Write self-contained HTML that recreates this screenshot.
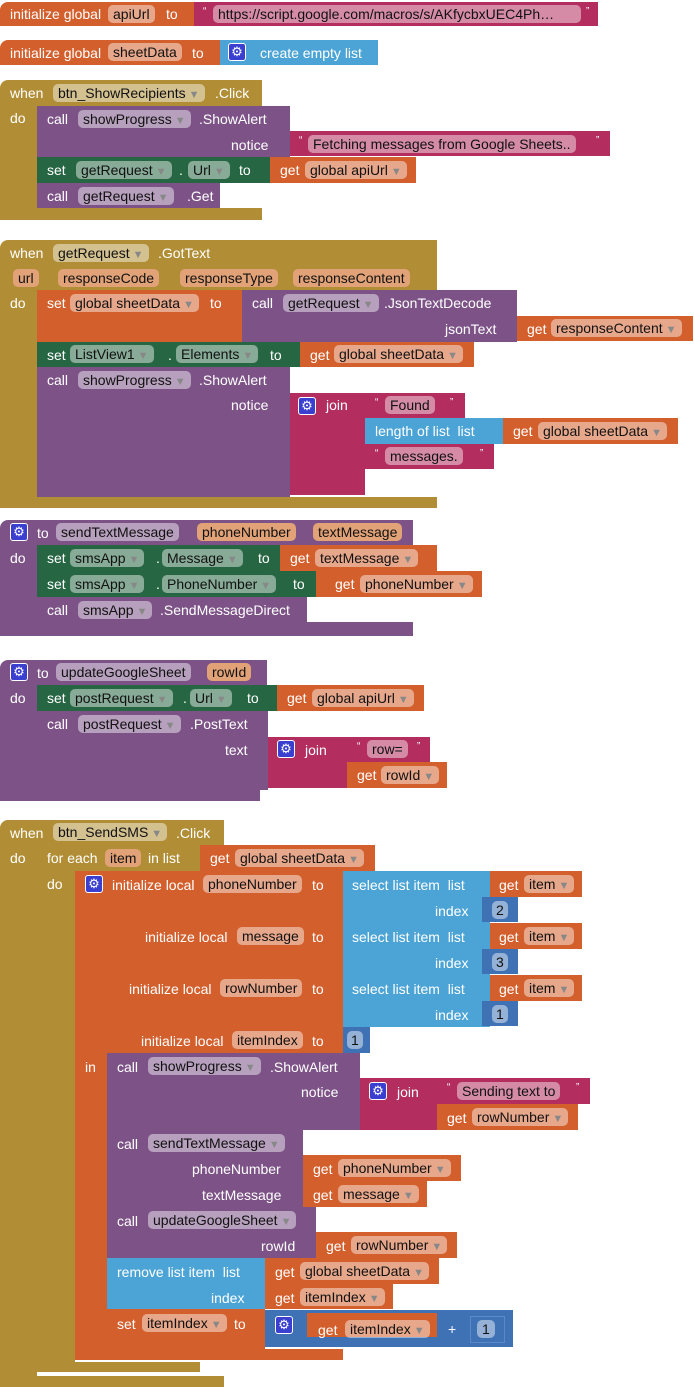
<!DOCTYPE html>
<html><head><meta charset="utf-8"><style>
body{margin:0;width:694px;height:1387px;background:#fff;position:relative;overflow:hidden;font-family:"Liberation Sans",sans-serif}
.b{position:absolute}
.o{background:#d35f2c}.v{background:#b18e35}.p{background:#7d5387}.g{background:#266643}.k{background:#b32d5e}.l{background:#4ca4d6}.m{background:#3f71b5}
.t{position:absolute;color:#fff;font-size:14px;line-height:16px;white-space:nowrap}
.f{position:absolute;color:#111;font-size:14px;line-height:18px;height:18px;padding:0 5px;border-radius:5px;background:rgba(255,255,255,.45);white-space:nowrap}
.f i{font-style:normal;color:#888;font-size:11px;margin-left:3px}
.gr{position:absolute;width:16px;height:16px;border:1px solid #fff;border-radius:3px;background:#3a3fd0;color:#fff;font-size:13px;line-height:16px;text-align:center}
.r{border-top-left-radius:8px}
</style></head><body>

<!-- Block 1 -->
<div class="b o r" style="left:0;top:2px;width:198px;height:24px"></div>
<div class="t" style="left:10px;top:6px">initialize global</div>
<div class="f" style="left:108px;top:5px">apiUrl</div>
<div class="t" style="left:166px;top:6px">to</div>
<div class="b k" style="left:194px;top:2px;width:404px;height:24px"></div>
<div class="t" style="left:203px;top:4px;font-size:10px">“</div>
<div class="f" style="left:213px;top:5px;width:358px;overflow:hidden">https://script.google.com/macros/s/AKfycbxUEC4Ph…</div>
<div class="t" style="left:586px;top:4px;font-size:10px">”</div>

<!-- Block 2 -->
<div class="b o r" style="left:0;top:40px;width:222px;height:25px"></div>
<div class="t" style="left:10px;top:45px">initialize global</div>
<div class="f" style="left:108px;top:43px">sheetData</div>
<div class="t" style="left:192px;top:45px">to</div>
<div class="b l" style="left:220px;top:40px;width:158px;height:25px"></div>
<div class="gr" style="left:228px;top:43px">⚙</div>
<div class="t" style="left:260px;top:45px">create empty list</div>

<!-- Block 3 -->
<div class="b v r" style="left:0;top:80px;width:262px;height:26px"></div>
<div class="b v" style="left:0;top:106px;width:37px;height:110px"></div>
<div class="b v" style="left:0;top:208px;width:262px;height:12px"></div>
<div class="t" style="left:10px;top:85px">when</div>
<div class="f" style="left:53px;top:84px">btn_ShowRecipients<i>▼</i></div>
<div class="t" style="left:215px;top:85px">.Click</div>
<div class="t" style="left:10px;top:110px">do</div>
<div class="b p" style="left:37px;top:106px;width:253px;height:52px"></div>
<div class="t" style="left:47px;top:111px">call</div>
<div class="f" style="left:78px;top:110px">showProgress<i>▼</i></div>
<div class="t" style="left:199px;top:111px">.ShowAlert</div>
<div class="t" style="left:231px;top:137px">notice</div>
<div class="b k" style="left:290px;top:131px;width:320px;height:25px"></div>
<div class="t" style="left:299px;top:133px;font-size:10px">“</div>
<div class="f" style="left:308px;top:135px">Fetching messages from Google Sheets..</div>
<div class="t" style="left:596px;top:133px;font-size:10px">”</div>
<div class="b g" style="left:37px;top:157px;width:233px;height:26px"></div>
<div class="t" style="left:47px;top:162px">set</div>
<div class="f" style="left:76px;top:161px">getRequest<i>▼</i></div>
<div class="t" style="left:179px;top:162px">.</div>
<div class="f" style="left:188px;top:161px">Url<i>▼</i></div>
<div class="t" style="left:239px;top:162px">to</div>
<div class="b o" style="left:270px;top:157px;width:146px;height:26px"></div>
<div class="t" style="left:280px;top:162px">get</div>
<div class="f" style="left:305px;top:161px">global apiUrl<i>▼</i></div>
<div class="b p" style="left:37px;top:183px;width:183px;height:25px"></div>
<div class="t" style="left:47px;top:188px">call</div>
<div class="f" style="left:78px;top:187px">getRequest<i>▼</i></div>
<div class="t" style="left:187px;top:188px">.Get</div>

<!-- Block 4 -->
<div class="b v r" style="left:0;top:240px;width:437px;height:50px"></div>
<div class="b v" style="left:0;top:290px;width:37px;height:210px"></div>
<div class="b v" style="left:0;top:497px;width:437px;height:11px"></div>
<div class="t" style="left:10px;top:245px">when</div>
<div class="f" style="left:53px;top:244px">getRequest<i>▼</i></div>
<div class="t" style="left:158px;top:245px">.GotText</div>
<div class="f" style="left:13px;top:269px;background:#e2a277">url</div>
<div class="f" style="left:58px;top:269px;background:#e2a277">responseCode</div>
<div class="f" style="left:180px;top:269px;background:#e2a277">responseType</div>
<div class="f" style="left:293px;top:269px;background:#e2a277">responseContent</div>
<div class="t" style="left:10px;top:295px">do</div>
<div class="b o" style="left:37px;top:290px;width:205px;height:52px"></div>
<div class="t" style="left:47px;top:295px">set</div>
<div class="f" style="left:70px;top:294px">global sheetData<i>▼</i></div>
<div class="t" style="left:210px;top:295px">to</div>
<div class="b p" style="left:242px;top:290px;width:275px;height:52px"></div>
<div class="t" style="left:252px;top:295px">call</div>
<div class="f" style="left:283px;top:294px">getRequest<i>▼</i></div>
<div class="t" style="left:384px;top:295px">.JsonTextDecode</div>
<div class="t" style="left:445px;top:321px">jsonText</div>
<div class="b o" style="left:517px;top:316px;width:176px;height:25px"></div>
<div class="t" style="left:527px;top:321px">get</div>
<div class="f" style="left:551px;top:319px">responseContent<i>▼</i></div>
<div class="b g" style="left:37px;top:342px;width:263px;height:25px"></div>
<div class="t" style="left:47px;top:347px">set</div>
<div class="f" style="left:70px;top:345px">ListView1<i>▼</i></div>
<div class="t" style="left:168px;top:347px">.</div>
<div class="f" style="left:176px;top:345px">Elements<i>▼</i></div>
<div class="t" style="left:270px;top:347px">to</div>
<div class="b o" style="left:300px;top:342px;width:174px;height:25px"></div>
<div class="t" style="left:310px;top:347px">get</div>
<div class="f" style="left:334px;top:345px">global sheetData<i>▼</i></div>
<div class="b p" style="left:37px;top:367px;width:253px;height:130px"></div>
<div class="t" style="left:47px;top:372px">call</div>
<div class="f" style="left:78px;top:371px">showProgress<i>▼</i></div>
<div class="t" style="left:199px;top:372px">.ShowAlert</div>
<div class="t" style="left:231px;top:397px">notice</div>
<div class="b k" style="left:290px;top:393px;width:75px;height:102px"></div>
<div class="gr" style="left:298px;top:397px">⚙</div>
<div class="t" style="left:326px;top:397px">join</div>
<div class="b k" style="left:365px;top:393px;width:100px;height:25px"></div>
<div class="t" style="left:375px;top:395px;font-size:10px">“</div>
<div class="f" style="left:385px;top:396px">Found</div>
<div class="t" style="left:450px;top:395px;font-size:10px">”</div>
<div class="b l" style="left:365px;top:418px;width:138px;height:26px"></div>
<div class="t" style="left:375px;top:423px">length of list &nbsp;list</div>
<div class="b o" style="left:503px;top:418px;width:175px;height:26px"></div>
<div class="t" style="left:513px;top:423px">get</div>
<div class="f" style="left:538px;top:422px">global sheetData<i>▼</i></div>
<div class="b k" style="left:365px;top:444px;width:129px;height:25px"></div>
<div class="t" style="left:375px;top:446px;font-size:10px">“</div>
<div class="f" style="left:385px;top:447px">messages.</div>
<div class="t" style="left:480px;top:446px;font-size:10px">”</div>

<!-- Block 5 -->
<div class="b p r" style="left:0;top:520px;width:413px;height:25px"></div>
<div class="b p" style="left:0;top:545px;width:37px;height:85px"></div>
<div class="b p" style="left:0;top:622px;width:413px;height:14px"></div>
<div class="gr" style="left:10px;top:523px">⚙</div>
<div class="t" style="left:37px;top:525px">to</div>
<div class="f" style="left:56px;top:523px">sendTextMessage</div>
<div class="f" style="left:197px;top:523px;background:#e2a277">phoneNumber</div>
<div class="f" style="left:313px;top:523px;background:#e2a277">textMessage</div>
<div class="t" style="left:10px;top:550px">do</div>
<div class="b g" style="left:37px;top:545px;width:243px;height:26px"></div>
<div class="t" style="left:47px;top:550px">set</div>
<div class="f" style="left:70px;top:549px">smsApp<i>▼</i></div>
<div class="t" style="left:156px;top:550px">.</div>
<div class="f" style="left:162px;top:549px">Message<i>▼</i></div>
<div class="t" style="left:258px;top:550px">to</div>
<div class="b o" style="left:280px;top:545px;width:157px;height:26px"></div>
<div class="t" style="left:290px;top:550px">get</div>
<div class="f" style="left:315px;top:549px">textMessage<i>▼</i></div>
<div class="b g" style="left:37px;top:571px;width:279px;height:26px"></div>
<div class="t" style="left:47px;top:576px">set</div>
<div class="f" style="left:70px;top:575px">smsApp<i>▼</i></div>
<div class="t" style="left:156px;top:576px">.</div>
<div class="f" style="left:162px;top:575px">PhoneNumber<i>▼</i></div>
<div class="t" style="left:293px;top:576px">to</div>
<div class="b o" style="left:316px;top:571px;width:166px;height:26px"></div>
<div class="t" style="left:335px;top:576px">get</div>
<div class="f" style="left:360px;top:575px">phoneNumber<i>▼</i></div>
<div class="b p" style="left:37px;top:597px;width:270px;height:25px"></div>
<div class="t" style="left:47px;top:602px">call</div>
<div class="f" style="left:78px;top:601px">smsApp<i>▼</i></div>
<div class="t" style="left:160px;top:602px">.SendMessageDirect</div>

<!-- Block 6 -->
<div class="b p r" style="left:0;top:660px;width:267px;height:25px"></div>
<div class="b p" style="left:0;top:685px;width:37px;height:110px"></div>
<div class="b p" style="left:0;top:790px;width:260px;height:11px"></div>
<div class="gr" style="left:10px;top:663px">⚙</div>
<div class="t" style="left:37px;top:665px">to</div>
<div class="f" style="left:56px;top:663px">updateGoogleSheet</div>
<div class="f" style="left:207px;top:663px;background:#e2a277">rowId</div>
<div class="t" style="left:10px;top:690px">do</div>
<div class="b g" style="left:37px;top:685px;width:240px;height:26px"></div>
<div class="t" style="left:47px;top:690px">set</div>
<div class="f" style="left:70px;top:689px">postRequest<i>▼</i></div>
<div class="t" style="left:183px;top:690px">.</div>
<div class="f" style="left:190px;top:689px">Url<i>▼</i></div>
<div class="t" style="left:247px;top:690px">to</div>
<div class="b o" style="left:277px;top:685px;width:147px;height:26px"></div>
<div class="t" style="left:287px;top:690px">get</div>
<div class="f" style="left:312px;top:689px">global apiUrl<i>▼</i></div>
<div class="b p" style="left:37px;top:711px;width:231px;height:79px"></div>
<div class="t" style="left:47px;top:716px">call</div>
<div class="f" style="left:78px;top:715px">postRequest<i>▼</i></div>
<div class="t" style="left:190px;top:716px">.PostText</div>
<div class="t" style="left:225px;top:742px">text</div>
<div class="b k" style="left:268px;top:737px;width:79px;height:51px"></div>
<div class="gr" style="left:277px;top:740px">⚙</div>
<div class="t" style="left:305px;top:742px">join</div>
<div class="b k" style="left:347px;top:737px;width:83px;height:25px"></div>
<div class="t" style="left:357px;top:739px;font-size:10px">“</div>
<div class="f" style="left:367px;top:740px">row=</div>
<div class="t" style="left:417px;top:739px;font-size:10px">”</div>
<div class="b o" style="left:347px;top:762px;width:100px;height:26px"></div>
<div class="t" style="left:357px;top:767px">get</div>
<div class="f" style="left:381px;top:766px">rowId<i>▼</i></div>

<!-- Block 7 -->
<div class="b v r" style="left:0;top:820px;width:224px;height:25px"></div>
<div class="b v" style="left:0;top:845px;width:37px;height:535px"></div>
<div class="b v" style="left:0;top:1376px;width:224px;height:11px"></div>
<div class="t" style="left:10px;top:825px">when</div>
<div class="f" style="left:53px;top:823px">btn_SendSMS<i>▼</i></div>
<div class="t" style="left:176px;top:825px">.Click</div>
<div class="t" style="left:10px;top:850px">do</div>
<div class="b v" style="left:37px;top:845px;width:163px;height:26px"></div>
<div class="b v" style="left:37px;top:871px;width:38px;height:495px"></div>
<div class="b v" style="left:37px;top:1362px;width:163px;height:10px"></div>
<div class="t" style="left:47px;top:850px">for each</div>
<div class="f" style="left:105px;top:849px;background:#e2a277">item</div>
<div class="t" style="left:148px;top:850px">in list</div>
<div class="b o" style="left:200px;top:845px;width:175px;height:26px"></div>
<div class="t" style="left:210px;top:850px">get</div>
<div class="f" style="left:235px;top:849px">global sheetData<i>▼</i></div>
<div class="t" style="left:47px;top:876px">do</div>
<div class="b o" style="left:75px;top:871px;width:268px;height:182px"></div>
<div class="b o" style="left:75px;top:1053px;width:32px;height:300px"></div>
<div class="b o" style="left:75px;top:1349px;width:268px;height:11px"></div>
<div class="gr" style="left:85px;top:875px">⚙</div>
<div class="t" style="left:112px;top:877px">initialize local</div>
<div class="f" style="left:203px;top:875px">phoneNumber</div>
<div class="t" style="left:312px;top:877px">to</div>
<div class="t" style="left:145px;top:929px">initialize local</div>
<div class="f" style="left:237px;top:927px">message</div>
<div class="t" style="left:312px;top:929px">to</div>
<div class="t" style="left:129px;top:981px">initialize local</div>
<div class="f" style="left:220px;top:979px">rowNumber</div>
<div class="t" style="left:312px;top:981px">to</div>
<div class="t" style="left:141px;top:1033px">initialize local</div>
<div class="f" style="left:232px;top:1031px">itemIndex</div>
<div class="t" style="left:312px;top:1033px">to</div>
<!-- select list items -->
<div class="b l" style="left:343px;top:871px;width:147px;height:52px"></div>
<div class="t" style="left:352px;top:877px">select list item &nbsp;list</div>
<div class="t" style="left:435px;top:903px">index</div>
<div class="b o" style="left:490px;top:871px;width:92px;height:26px"></div>
<div class="t" style="left:499px;top:877px">get</div>
<div class="f" style="left:524px;top:875px">item<i>▼</i></div>
<div class="b m" style="left:482px;top:897px;width:36px;height:25px"></div>
<div class="f" style="left:492px;top:901px;padding:0 4px">2</div>
<div class="b l" style="left:343px;top:923px;width:147px;height:52px"></div>
<div class="t" style="left:352px;top:929px">select list item &nbsp;list</div>
<div class="t" style="left:435px;top:955px">index</div>
<div class="b o" style="left:490px;top:923px;width:92px;height:26px"></div>
<div class="t" style="left:499px;top:929px">get</div>
<div class="f" style="left:524px;top:927px">item<i>▼</i></div>
<div class="b m" style="left:482px;top:949px;width:36px;height:25px"></div>
<div class="f" style="left:492px;top:953px;padding:0 4px">3</div>
<div class="b l" style="left:343px;top:975px;width:147px;height:52px"></div>
<div class="t" style="left:352px;top:981px">select list item &nbsp;list</div>
<div class="t" style="left:435px;top:1007px">index</div>
<div class="b o" style="left:490px;top:975px;width:92px;height:26px"></div>
<div class="t" style="left:499px;top:981px">get</div>
<div class="f" style="left:524px;top:979px">item<i>▼</i></div>
<div class="b m" style="left:482px;top:1001px;width:36px;height:25px"></div>
<div class="f" style="left:492px;top:1005px;padding:0 4px">1</div>
<div class="b m" style="left:343px;top:1027px;width:27px;height:26px"></div>
<div class="f" style="left:347px;top:1031px;padding:0 4px">1</div>
<div class="t" style="left:85px;top:1059px">in</div>
<!-- showProgress -->
<div class="b p" style="left:107px;top:1053px;width:253px;height:77px"></div>
<div class="t" style="left:117px;top:1059px">call</div>
<div class="f" style="left:148px;top:1057px">showProgress<i>▼</i></div>
<div class="t" style="left:270px;top:1059px">.ShowAlert</div>
<div class="t" style="left:301px;top:1084px">notice</div>
<div class="b k" style="left:360px;top:1078px;width:77px;height:52px"></div>
<div class="gr" style="left:369px;top:1082px">⚙</div>
<div class="t" style="left:397px;top:1084px">join</div>
<div class="b k" style="left:437px;top:1078px;width:153px;height:26px"></div>
<div class="t" style="left:447px;top:1080px;font-size:10px">“</div>
<div class="f" style="left:457px;top:1082px">Sending text to</div>
<div class="t" style="left:576px;top:1080px;font-size:10px">”</div>
<div class="b o" style="left:437px;top:1104px;width:141px;height:26px"></div>
<div class="t" style="left:447px;top:1110px">get</div>
<div class="f" style="left:472px;top:1108px">rowNumber<i>▼</i></div>
<!-- sendTextMessage -->
<div class="b p" style="left:107px;top:1130px;width:196px;height:77px"></div>
<div class="t" style="left:117px;top:1136px">call</div>
<div class="f" style="left:148px;top:1134px">sendTextMessage<i>▼</i></div>
<div class="t" style="left:192px;top:1161px">phoneNumber</div>
<div class="t" style="left:202px;top:1187px">textMessage</div>
<div class="b o" style="left:303px;top:1155px;width:158px;height:26px"></div>
<div class="t" style="left:313px;top:1161px">get</div>
<div class="f" style="left:338px;top:1159px">phoneNumber<i>▼</i></div>
<div class="b o" style="left:303px;top:1181px;width:124px;height:26px"></div>
<div class="t" style="left:313px;top:1187px">get</div>
<div class="f" style="left:338px;top:1185px">message<i>▼</i></div>
<!-- updateGoogleSheet -->
<div class="b p" style="left:107px;top:1207px;width:209px;height:51px"></div>
<div class="t" style="left:117px;top:1213px">call</div>
<div class="f" style="left:148px;top:1211px">updateGoogleSheet<i>▼</i></div>
<div class="t" style="left:261px;top:1238px">rowId</div>
<div class="b o" style="left:316px;top:1232px;width:141px;height:26px"></div>
<div class="t" style="left:326px;top:1238px">get</div>
<div class="f" style="left:351px;top:1236px">rowNumber<i>▼</i></div>
<!-- remove -->
<div class="b l" style="left:107px;top:1258px;width:158px;height:51px"></div>
<div class="t" style="left:117px;top:1264px">remove list item &nbsp;list</div>
<div class="t" style="left:211px;top:1290px">index</div>
<div class="b o" style="left:265px;top:1258px;width:174px;height:26px"></div>
<div class="t" style="left:275px;top:1264px">get</div>
<div class="f" style="left:300px;top:1262px">global sheetData<i>▼</i></div>
<div class="b o" style="left:265px;top:1284px;width:128px;height:25px"></div>
<div class="t" style="left:275px;top:1290px">get</div>
<div class="f" style="left:300px;top:1288px">itemIndex<i>▼</i></div>
<!-- set itemIndex -->
<div class="b o" style="left:107px;top:1309px;width:158px;height:40px"></div>
<div class="t" style="left:117px;top:1316px">set</div>
<div class="f" style="left:142px;top:1314px">itemIndex<i>▼</i></div>
<div class="t" style="left:234px;top:1316px">to</div>
<div class="b m" style="left:265px;top:1310px;width:248px;height:37px"></div>
<div class="gr" style="left:275px;top:1316px">⚙</div>
<div class="b o" style="left:307px;top:1313px;width:130px;height:24px"></div>
<div class="t" style="left:318px;top:1322px">get</div>
<div class="f" style="left:345px;top:1320px">itemIndex<i>▼</i></div>
<div class="t" style="left:448px;top:1321px">+</div>
<div class="b m" style="left:470px;top:1316px;width:35px;height:27px;border:1px solid #5b88c8;box-sizing:border-box"></div>
<div class="f" style="left:477px;top:1320px;padding:0 5px">1</div>

</body></html>
